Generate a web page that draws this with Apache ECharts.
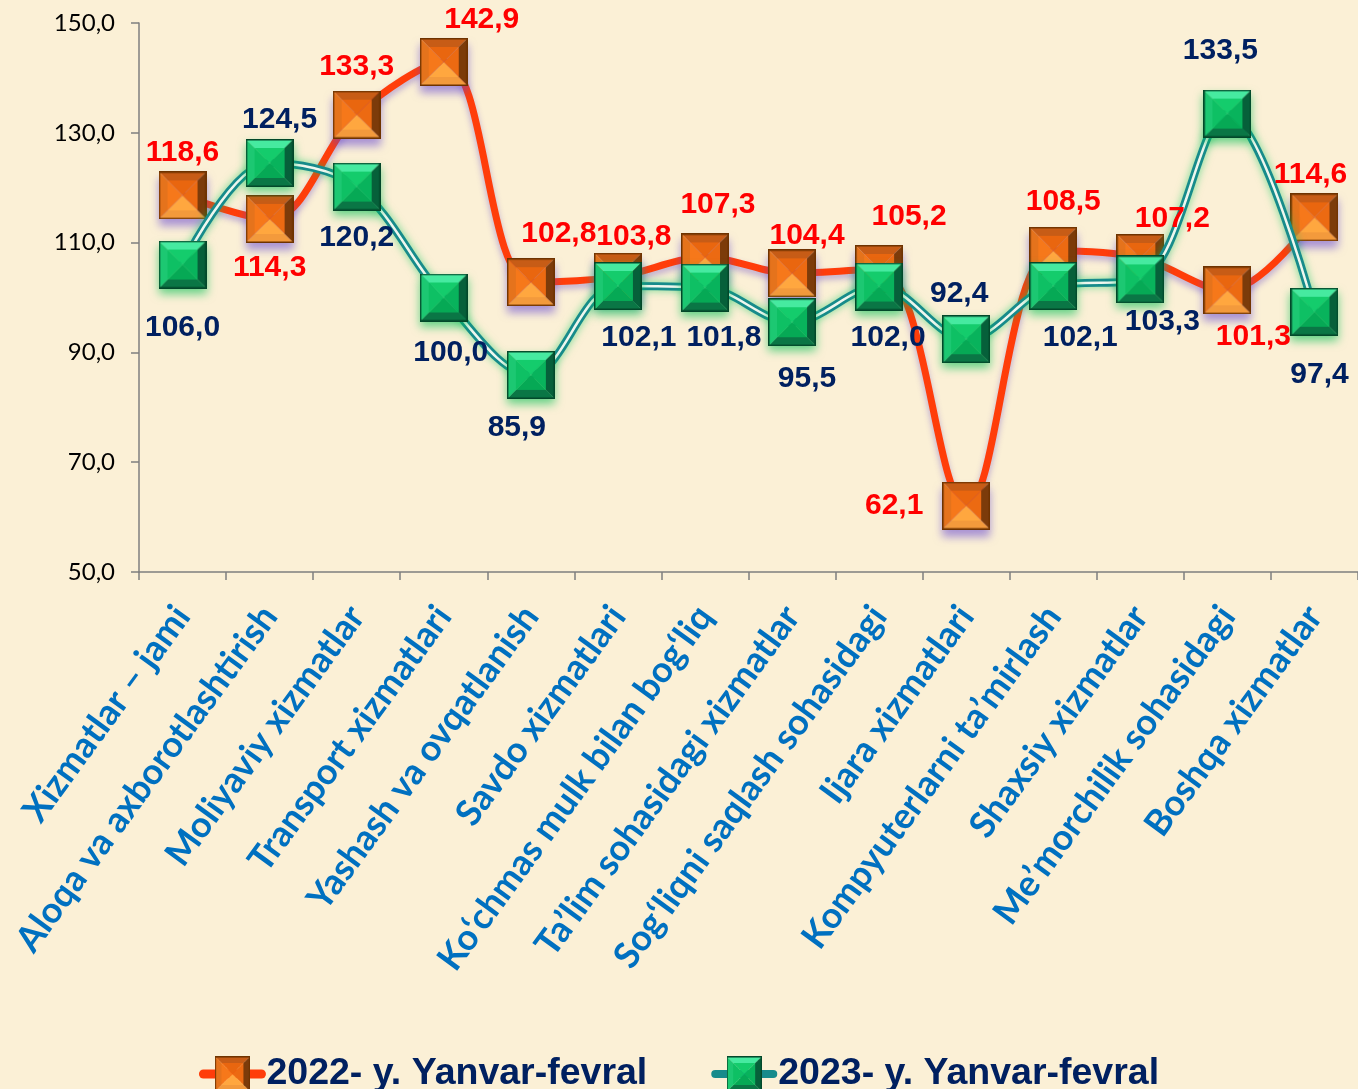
<!DOCTYPE html>
<html>
<head>
<meta charset="utf-8">
<script src="https://cdn.jsdelivr.net/npm/echarts@6/dist/echarts.min.js"></script>
<style>
  html, body { margin: 0; padding: 0; background: #fbf0d6; }
  #chart { width: 1358px; height: 1089px; }
</style>
</head>
<body>
<div id="chart"></div>
<script>
var categories = [
  'Xizmatlar – jami', 'Aloqa va axborotlashtirish', 'Moliyaviy xizmatlar',
  'Transport xizmatlari', 'Yashash va ovqatlanish', 'Savdo xizmatlari',
  'Ko‘chmas mulk bilan bog‘liq', 'Ta’lim sohasidagi xizmatlar',
  'Sog‘liqni saqlash sohasidagi', 'Ijara xizmatlari', 'Kompyuterlarni ta’mirlash',
  'Shaxsiy xizmatlar', 'Me’morchilik sohasidagi', 'Boshqa xizmatlar'
];
var name2022 = '2022- y. Yanvar-fevral';
var name2023 = '2023- y. Yanvar-fevral';
var values2022 = [118.6, 114.3, 133.3, 142.9, 102.8, 103.8, 107.3, 104.4, 105.2, 62.1, 108.5, 107.2, 101.3, 114.6];
var values2023 = [106.0, 124.5, 120.2, 100.0, 85.9, 102.1, 101.8, 95.5, 102.0, 92.4, 102.1, 103.3, 133.5, 97.4];
var yMin = 50, yMax = 150, yStep = 20;

// label placement (pixels from marker centre)
var offsets2022 = [[0,-43],[0,49],[0,-48],[38,-42],[28,-48],[16,-40],[13,-53],[15,-38],[30,-52],[-72,0],[10,-49],[32,-39],[26,46],[-4,-43]];
var offsets2023 = [[0,63],[10,-43],[0,51],[7,55],[-14,53],[21,52],[19,50],[15,57],[9,51],[-7,-45],[27,52],[22,42],[-7,-63],[5,63]];

function comma(v) { return Number(v).toFixed(1).replace('.', ','); }

// beveled square marker drawn on a canvas
function bevel(c) {
  var s = 48, b = 9, cv = document.createElement('canvas');
  cv.width = s; cv.height = s;
  var g = cv.getContext('2d');
  function poly(pts, col) {
    g.beginPath(); g.moveTo(pts[0][0], pts[0][1]);
    for (var i = 1; i < pts.length; i++) g.lineTo(pts[i][0], pts[i][1]);
    g.closePath(); g.fillStyle = col; g.fill();
  }
  var m = s / 2;
  poly([[0,0],[s,0],[s-b,b],[b,b]], c.top);
  poly([[s,0],[s,s],[s-b,s-b],[s-b,b]], c.right);
  poly([[0,s],[s,s],[s-b,s-b],[b,s-b]], c.bottom);
  poly([[0,0],[0,s],[b,s-b],[b,b]], c.left);
  poly([[b,b],[s-b,b],[m,m]], c.fT);
  poly([[s-b,b],[s-b,s-b],[m,m]], c.fR);
  poly([[b,s-b],[s-b,s-b],[m,m]], c.fB);
  poly([[b,b],[b,s-b],[m,m]], c.fL);
  g.strokeStyle = c.border; g.lineWidth = 1.5;
  g.strokeRect(0.75, 0.75, s - 1.5, s - 1.5);
  return 'image://' + cv.toDataURL();
}
var orangeBox = bevel({border:'#6e3300', top:'#c75c16', left:'#e5731c', right:'#7c3b0a', bottom:'#f39a3c',
  fT:'#e9660f', fL:'#f6781a', fR:'#ec6a12', fB:'#ffa73f'});
var greenBox = bevel({border:'#03482a', top:'#46eaa0', left:'#1cc872', right:'#06603a', bottom:'#0a7645',
  fT:'#14cc6c', fL:'#0ec064', fR:'#08b35c', fB:'#06a955'});

function items(vals, offs) {
  return vals.map(function (v, i) { return { value: v, label: { offset: offs[i] } }; });
}

var labelBase = { show: true, position: 'inside', fontSize: 30, fontWeight: 'bold', opacity: 1,
  fontFamily: 'Liberation Sans, Arial, sans-serif', formatter: function (p) { return comma(p.value); } };

// invisible series that only carries the value labels, drawn above all lines
function labelSeries(name, vals, offs, color) {
  return {
    name: name, type: 'line', z: 10, silent: true, showAllSymbol: true,
    data: items(vals, offs), symbol: 'rect', symbolSize: 1,
    lineStyle: { opacity: 0 }, itemStyle: { opacity: 0 },
    label: Object.assign({}, labelBase, { color: color })
  };
}

var chart = echarts.init(document.getElementById('chart'));
var option = {
  backgroundColor: '#fbf0d6',
  animation: false,
  grid: { left: 139, top: 23, width: 1228, height: 549 },
  legend: {
    left: 'center', top: 1050, itemWidth: 58, itemHeight: 44, itemGap: 64,
    textStyle: { fontSize: 37.5, fontWeight: 'bold', color: '#002060', fontFamily: 'Liberation Sans, Arial, sans-serif' },
    data: [
      { name: name2022, lineStyle: { color: '#ff3d0a', width: 9, cap: 'round', opacity: 1 } },
      { name: name2023, lineStyle: { color: '#178b8b', width: 8, cap: 'round', opacity: 1 } }
    ]
  },
  xAxis: {
    type: 'category', data: categories, boundaryGap: true,
    axisLine: { lineStyle: { color: '#7f7f7f', width: 1.5 } },
    axisTick: { show: true, length: 8, interval: 0, lineStyle: { color: '#7f7f7f', width: 1.5 } },
    axisLabel: { interval: 0, rotate: 54, margin: 38, color: '#0070c0', fontSize: 36,
      fontWeight: 'bold', fontFamily: 'Lato, Open Sans, sans-serif' }
  },
  yAxis: {
    type: 'value', min: yMin, max: yMax, interval: yStep,
    splitLine: { show: false },
    axisLine: { show: true, lineStyle: { color: '#7f7f7f', width: 1.5 } },
    axisTick: { show: true, length: 8, lineStyle: { color: '#7f7f7f', width: 1.5 } },
    axisLabel: { color: '#000', fontSize: 24, margin: 24, fontFamily: 'Lato, Open Sans, sans-serif',
      formatter: comma }
  },
  series: [
    {
      name: name2022, type: 'line', z: 2, smooth: 0.35,
      data: values2022,
      symbol: orangeBox, symbolSize: 48,
      lineStyle: { color: '#ff3d0a', width: 7, shadowColor: 'rgba(110,80,200,0.45)', shadowBlur: 6, shadowOffsetY: 4 },
      itemStyle: { color: '#ff6a10', shadowColor: 'rgba(100,70,210,0.55)', shadowBlur: 8, shadowOffsetY: 7 }
    },
    {
      // 2023 markers (listed first so the legend takes its symbol)
      name: name2023, type: 'line', z: 5, smooth: 0.35,
      data: values2023,
      symbol: greenBox, symbolSize: 48,
      lineStyle: { opacity: 0 },
      itemStyle: { color: '#00b050', shadowColor: 'rgba(0,190,80,0.6)', shadowBlur: 10, shadowOffsetY: 5 }
    },
    {
      name: name2023, type: 'line', z: 3, smooth: 0.35, silent: true,
      data: values2023, symbol: 'none',
      lineStyle: { color: '#178b8b', width: 8, shadowColor: 'rgba(0,200,90,0.55)', shadowBlur: 8 }
    },
    {
      name: name2023, type: 'line', z: 4, smooth: 0.35, silent: true,
      data: values2023, symbol: 'none',
      lineStyle: { color: '#eef7ee', width: 2.5 }
    },
    labelSeries(name2022, values2022, offsets2022, '#ff0000'),
    labelSeries(name2023, values2023, offsets2023, '#002060')
  ]
};
chart.setOption(option);
</script>
</body>
</html>
